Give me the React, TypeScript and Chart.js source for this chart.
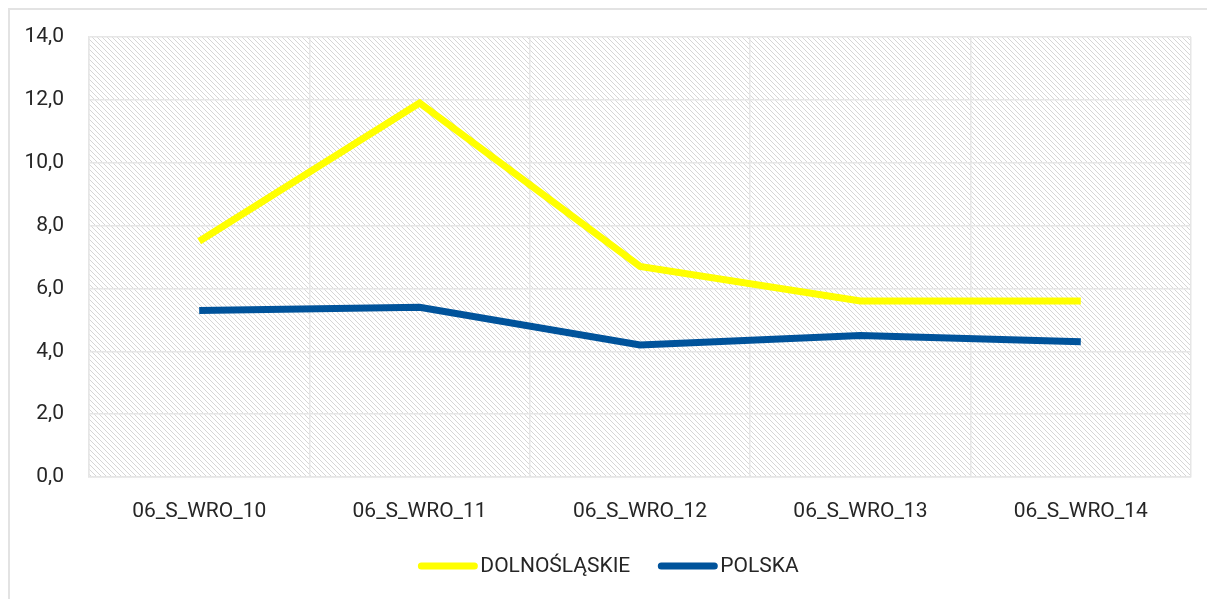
import React, { useEffect, useRef } from "react";
import { Chart, registerables } from "chart.js";

Chart.register(...registerables);

const categories = ["06_S_WRO_10", "06_S_WRO_11", "06_S_WRO_12", "06_S_WRO_13", "06_S_WRO_14"];
const dolnoslaskie = [7.5, 11.9, 6.7, 5.6, 5.6];
const polska = [5.3, 5.4, 4.2, 4.5, 4.3];
const seriesNames = ["DOLNOŚLĄSKIE", "POLSKA"];
const seriesColors = ["#FFFF00", "#00539B"];

const FONT = "Roboto, 'Noto Sans', sans-serif";
const TEXT = "#262626";

function makePattern(): CanvasPattern | string {
  const c = document.createElement("canvas");
  const s = 5;
  c.width = s;
  c.height = s;
  const g = c.getContext("2d");
  if (!g) return "#f2f2f2";
  g.fillStyle = "#ffffff";
  g.fillRect(0, 0, s, s);
  g.strokeStyle = "#d6d6d6";
  g.lineWidth = 1;
  g.beginPath();
  g.moveTo(-1, -1);
  g.lineTo(s + 1, s + 1);
  g.moveTo(-1, s - 1);
  g.lineTo(1, s + 1);
  g.moveTo(s - 1, -1);
  g.lineTo(s + 1, 1);
  g.stroke();
  const p = g.createPattern(c, "repeat");
  return p || "#f2f2f2";
}

const hatchPlugin = {
  id: "hatch",
  beforeDraw(chart: any) {
    const { ctx, chartArea } = chart;
    ctx.save();
    ctx.fillStyle = makePattern();
    ctx.fillRect(chartArea.left, chartArea.top, chartArea.right - chartArea.left, chartArea.bottom - chartArea.top);
    ctx.restore();
  },
};

const legendPlugin = {
  id: "customLegend",
  afterDraw(chart: any) {
    const { ctx } = chart;
    const ds = chart.data.datasets;
    const boxW = 59;
    const gapText = 3;
    const gapItem = 28;
    ctx.save();
    ctx.font = `21px ${FONT}`;
    const widths = ds.map((d: any) => boxW + gapText + ctx.measureText(d.label).width);
    const total = widths.reduce((a: number, b: number) => a + b, 0) + gapItem * (ds.length - 1);
    let x = (chart.width - total) / 2;
    const y = 556;
    ds.forEach((d: any, i: number) => {
      ctx.strokeStyle = d.borderColor;
      ctx.lineWidth = 7;
      ctx.lineCap = "round";
      ctx.beginPath();
      ctx.moveTo(x + 3, y);
      ctx.lineTo(x + boxW - 3, y);
      ctx.stroke();
      ctx.fillStyle = TEXT;
      ctx.textBaseline = "middle";
      ctx.textAlign = "left";
      ctx.fillText(d.label, x + boxW + gapText, y + 1);
      x += widths[i] + gapItem;
    });
    ctx.restore();
  },
};

export default function App() {
  const ref = useRef<HTMLCanvasElement>(null);
  useEffect(() => {
    document.documentElement.style.overflow = "hidden";
    if (!ref.current) return;
    const chart = new Chart(ref.current, {
      type: "line",
      data: {
        labels: categories,
        datasets: [
          {
            label: seriesNames[0],
            data: dolnoslaskie,
            borderColor: seriesColors[0],
            backgroundColor: seriesColors[0],
            borderWidth: 7,
            pointRadius: 0,
            tension: 0,
          },
          {
            label: seriesNames[1],
            data: polska,
            borderColor: seriesColors[1],
            backgroundColor: seriesColors[1],
            borderWidth: 7,
            pointRadius: 0,
            tension: 0,
          },
        ],
      },
      options: {
        animation: false,
        responsive: false,
        layout: { padding: { top: 27, right: 16, left: 0, bottom: 0 } },
        plugins: {
          legend: { display: false },
          tooltip: { enabled: false },
        },
        scales: {
          x: {
            offset: true,
            grid: { offset: true, color: "#e6e6e6", lineWidth: 1.5, drawTicks: false },
            border: { display: true, color: "#e6e6e6", width: 1.5 },
            ticks: { color: TEXT, font: { family: FONT, size: 21 }, padding: 22, maxRotation: 0 },
            afterFit(scale: any) {
              scale.height = 122;
            },
          },
          y: {
            min: 0,
            max: 14,
            grid: { color: "#e6e6e6", lineWidth: 1.5, drawTicks: false },
            border: { display: true, color: "#e6e6e6", width: 1.5 },
            ticks: {
              stepSize: 2,
              color: TEXT,
              font: { family: FONT, size: 21 },
              padding: 25,
              callback: (v: any) => Number(v).toFixed(1).replace(".", ","),
            },
            afterFit(scale: any) {
              scale.width = 79;
              scale.paddingTop = 0;
              scale.paddingBottom = 0;
            },
          },
        },
      },
      plugins: [hatchPlugin, legendPlugin],
    });
    return () => chart.destroy();
  }, []);
  return (
    <div
      style={{
        position: "fixed",
        left: 8,
        top: 8,
        borderLeft: "2px solid #e3e3e3",
        borderTop: "2px solid #e3e3e3",
        width: 1199,
        height: 591,
        boxSizing: "border-box",
        background: "#fff",
      }}
    >
      <canvas ref={ref} width={1197} height={589} style={{ display: "block" }} />
    </div>
  );
}
